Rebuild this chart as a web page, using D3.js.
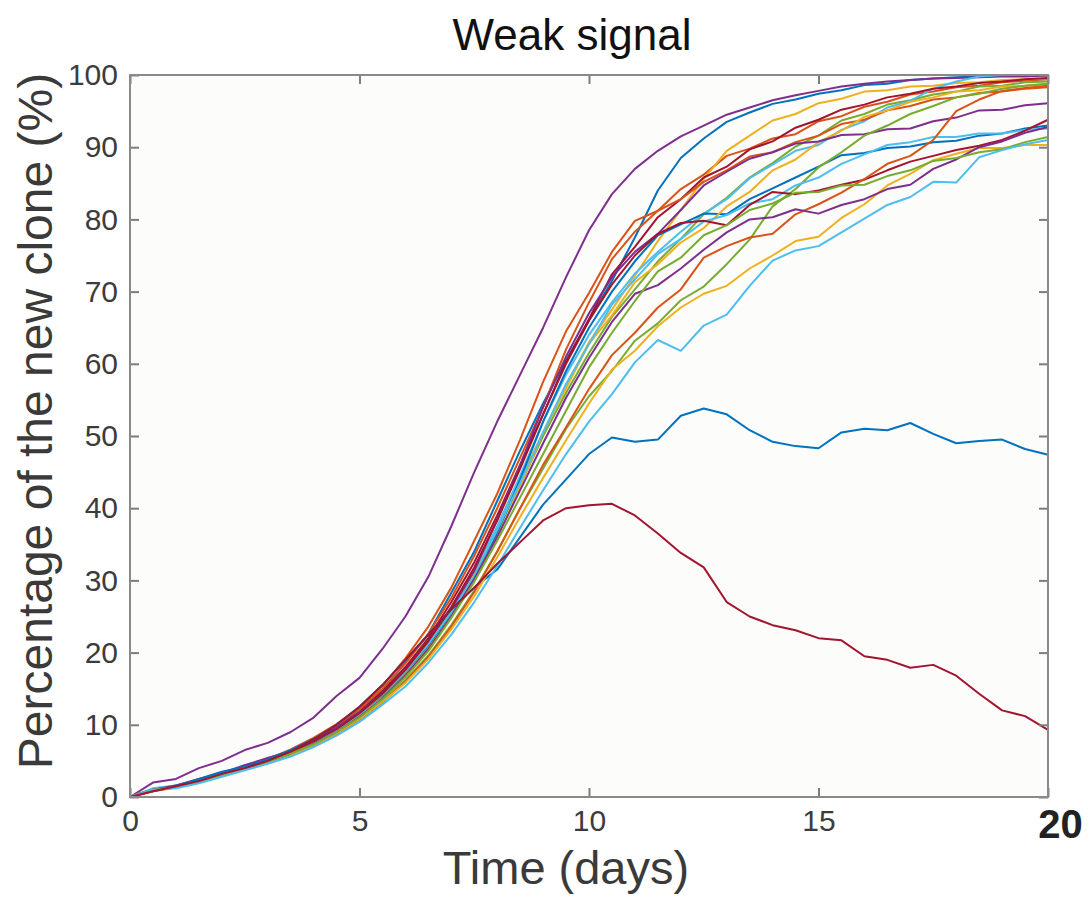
<!DOCTYPE html>
<html lang="en">
<head>
  <meta charset="UTF-8">
  <title>Weak signal</title>
  <script src="https://d3js.org/d3.v7.min.js"></script>
  <style>
    body { margin: 0; background: #fff; font-family: "Liberation Sans", Arial, sans-serif; }
    .run { fill: none; stroke-width: 2px; stroke-linejoin: round; }
    .axis path { display: none; }
    .axis line { stroke: #7d7d7d; stroke-width: 2px; }
    .axis text { font-family: "Liberation Sans", Arial, sans-serif; font-size: 30px; fill: #3c3c3c; }
    .title { font-size: 44px; fill: #111; }
    .axis-label { fill: #3a3a3a; }
  </style>
</head>
<body>
  <svg id="chart" width="1089" height="907"></svg>

  <script>
    // time grid (days)
    const days = [0, 0.5, 1, 1.5, 2, 2.5, 3, 3.5, 4, 4.5, 5, 5.5, 6, 6.5, 7, 7.5, 8, 8.5, 9, 9.5,
                  10, 10.5, 11, 11.5, 12, 12.5, 13, 13.5, 14, 14.5, 15, 15.5, 16, 16.5, 17, 17.5,
                  18, 18.5, 19, 19.5, 20];
    const xTicks = [0, 5, 10, 15, 20];
    const yTicks = [0, 10, 20, 30, 40, 50, 60, 70, 80, 90, 100];

    // percentage of the new clone, one array per simulation run
    const run01 = [0, 1, 1.6, 2.2, 3.4, 4.1, 5.3, 6.4, 8.1, 9.6, 12.2, 14.8, 18.6, 22.6, 28.3, 34, 41, 48,
                   54.5, 60.5, 66, 71.5, 77.5, 84, 88.5, 91.2, 93.5, 94.8, 96, 96.6, 97.4, 97.9, 98.6, 98.8, 99.3, 99.5, 99.7, 99.8, 99.9, 100, 100];
    const run02 = [0, 0.8, 1.4, 2.1, 3.1, 4.2, 5.2, 6.6, 8.2, 10.1, 12.4, 15.4, 19.2, 23.6, 29, 35.5, 42, 49.5,
                   57.5, 64.5, 69.8, 75.5, 79.8, 81.2, 84.2, 86.2, 88.8, 89.8, 91.2, 91.8, 93.6, 94.3, 95.6, 96.3, 97.3, 97.7, 98.3, 98.5, 99, 99.2, 99.4];
    const run03 = [0, 1, 1.5, 2.3, 3.1, 4.3, 5.1, 6.1, 7.7, 9.2, 11.6, 14.2, 17.1, 21.2, 25.8, 31, 37, 44,
                   50.5, 57, 63, 67.5, 72.2, 77, 81.3, 85.6, 89.5, 91.6, 93.7, 94.6, 96.1, 96.7, 97.7, 97.9, 98.4, 98.5, 98.9, 99, 99.3, 99.4, 99.5];
    const run04 = [0, 2, 2.5, 4, 5, 6.5, 7.5, 9, 11, 14, 16.5, 20.5, 25, 30.5, 37.5, 45, 52, 58.5,
                   65, 72, 78.5, 83.5, 87, 89.5, 91.5, 93, 94.5, 95.5, 96.5, 97.2, 97.8, 98.4, 98.8, 99.1, 99.3, 99.5, 99.6, 99.7, 99.8, 99.8, 99.9];
    const run05 = [0, 1, 1.4, 2.2, 3.3, 4.1, 5, 6.3, 7.5, 9.4, 11.4, 14.1, 17.2, 20.8, 25.6, 30.2, 36.8, 43.2,
                   50, 56, 61.5, 66.5, 70.3, 74.2, 77.3, 80.7, 83, 85.8, 87.8, 90.1, 91.6, 93.7, 94.6, 95.9, 96.5, 97.3, 97.7, 98.4, 98.5, 99, 99.1];
    const run06 = [0, 1.2, 1.6, 2.4, 3.3, 4.4, 5.3, 6.5, 7.9, 9.5, 11.8, 14.4, 17.8, 21.6, 26.2, 31.4, 37.5, 44.5,
                   52, 58.5, 64, 68.5, 72.5, 75.5, 78.3, 80.8, 82.8, 85.7, 87.6, 89.5, 90.3, 92.4, 93.6, 95.5, 96.4, 98.1, 99.1, 99.8, 100, 100, 100];
    const run07 = [0, 0.9, 1.5, 2.2, 3.2, 4.2, 5.1, 6.3, 7.8, 9.6, 11.8, 14.6, 18, 22, 27, 32.5, 39, 46,
                   53, 60.3, 66.2, 72.4, 76.2, 80.3, 82.8, 85.8, 87.3, 89.7, 90.8, 92.7, 93.8, 95.2, 95.9, 96.9, 97.4, 98.1, 98.4, 98.9, 99.1, 99.4, 99.6];
    const run08 = [0, 1, 1.5, 2.1, 3, 4, 5, 6.1, 7.5, 9.2, 11.3, 13.8, 17, 20.8, 25.2, 30.3, 36.5, 44,
                   52, 59, 65, 70, 74.2, 77.8, 79.3, 80.8, 80.7, 82.8, 84.3, 85.8, 87.3, 88.9, 89.2, 89.9, 90.1, 90.7, 90.9, 91.6, 91.9, 92.6, 93];
    const run09 = [0, 1, 1.5, 2.3, 3.2, 4.3, 5.3, 6.5, 8.1, 9.9, 12.2, 15, 18.5, 22.6, 27.6, 33.4, 40, 47,
                   54, 62, 68.5, 74.5, 78.3, 81.2, 82.8, 85.2, 86.8, 88.7, 89.3, 90.7, 91.6, 93.2, 93.8, 95.1, 95.7, 96.6, 96.9, 97.5, 97.7, 98.1, 98.3];
    const run10 = [0, 1, 1.3, 2.1, 3.2, 4, 4.9, 6, 7.4, 9.1, 11.2, 13.7, 16.9, 20.6, 25, 30, 36, 43,
                   50.5, 56.6, 62.8, 66.7, 71.3, 73.8, 76.8, 78.8, 81.8, 83.8, 86.8, 88.3, 90.7, 92.3, 94.2, 95.1, 96.3, 96.9, 97.7, 97.9, 98.4, 98.5, 98.8];
    const run11 = [0, 1, 1.6, 2.5, 3.3, 4.4, 5.4, 6.3, 7.9, 9.6, 11.7, 14.3, 17.6, 21.5, 26, 31.3, 38.5, 46,
                   54, 61, 67, 72, 75.5, 78, 81.3, 84.7, 86.6, 88.4, 89.3, 90.5, 90.8, 91.7, 91.8, 92.5, 92.6, 93.6, 94.1, 95.1, 95.2, 95.8, 96.1];
    const run12 = [0, 1, 1.3, 2, 3, 3.9, 4.8, 5.9, 7.2, 8.9, 10.9, 13.2, 16.2, 19.6, 23.8, 28.6, 34, 40,
                   45.5, 51, 55.5, 59, 63.2, 65.6, 68.8, 70.7, 73.8, 77.2, 81.8, 84.2, 87.2, 89.3, 91.6, 93, 94.6, 95.7, 96.9, 97.4, 98.1, 98.5, 98.8];
    const run13 = [0, 1.1, 1.5, 2.3, 3.2, 4.1, 5.1, 6.2, 7.6, 9.3, 11.5, 14.2, 17.4, 21.2, 25.6, 30.6, 37, 43.5,
                   50.5, 57.2, 62.7, 68.2, 71.7, 75.2, 77.3, 79.7, 80.6, 82.2, 82.8, 84.7, 85.8, 87.7, 89, 90.3, 90.7, 91.4, 91.4, 91.9, 91.9, 92.4, 92.6];
    const run14 = [0, 1, 1.5, 2.1, 3.1, 4.1, 5, 6.2, 7.7, 9.4, 11.6, 14.3, 17.6, 21.6, 26.3, 31.8, 38.3, 45.5,
                   53, 60, 66, 71, 75, 78, 79.5, 79.8, 79.2, 82, 83.8, 83.5, 84, 84.8, 85.5, 86.8, 88, 88.8, 89.6, 90.2, 91, 92.3, 93.8];
    const run15 = [0, 1, 1.5, 2.5, 3.5, 4.2, 5.2, 6.5, 8, 10, 12.5, 15.5, 19, 22.5, 26, 29, 31.5, 36,
                   40.5, 44, 47.5, 49.8, 49.2, 49.5, 52.8, 53.8, 53, 50.8, 49.2, 48.6, 48.3, 50.5, 51, 50.8, 51.8, 50.3, 49, 49.3, 49.5, 48.2, 47.4];
    const run16 = [0, 0.8, 1.3, 2, 2.9, 3.8, 4.7, 5.8, 7.1, 8.7, 10.7, 13.1, 16, 19.4, 23.6, 28.4, 34, 40,
                   46, 51.2, 56.5, 61.2, 64.3, 67.8, 70.3, 74.7, 76.3, 77.5, 78, 80.7, 82.1, 83.7, 85.6, 87.7, 88.8, 91, 95, 96.6, 97.8, 98.2, 98.5];
    const run17 = [0, 1, 1.4, 2, 2.9, 3.9, 4.8, 5.8, 7.2, 8.8, 10.8, 13.2, 15.8, 19.1, 23.2, 27.8, 33.2, 38.8,
                   44.2, 49.4, 54.5, 59.2, 61.8, 65.2, 67.8, 69.7, 70.8, 73.2, 75, 77, 77.6, 80.2, 82.1, 84.7, 86.3, 88.2, 89.1, 89.9, 89.9, 90.3, 90.3];
    const run18 = [0, 1, 1.5, 2.2, 3.1, 4, 4.9, 6, 7.4, 9, 11.1, 13.6, 16.8, 20.5, 25, 30.2, 36, 42.5,
                   49, 55.3, 60.8, 65.8, 69.7, 70.9, 73.2, 75.8, 78.2, 80, 80.3, 81.4, 80.8, 82, 82.8, 84.2, 84.8, 87, 88.3, 90, 90.8, 92, 92.8];
    const run19 = [0, 1, 1.4, 2.1, 3, 4, 4.9, 6, 7.3, 9, 11, 13.5, 16.6, 20.2, 24.8, 29.8, 35.5, 41.5,
                   47.5, 53.5, 59.5, 64.3, 68.7, 72.8, 74.7, 77.8, 79.2, 81.3, 82.2, 83.7, 83.8, 84.7, 84.8, 86, 86.8, 88.1, 88.5, 89.3, 89.7, 90.7, 91.4];
    const run20 = [0, 1, 1.2, 1.9, 2.8, 3.7, 4.6, 5.6, 6.9, 8.5, 10.4, 12.8, 15.3, 18.6, 22.5, 27, 32, 37.3,
                   42.5, 47.5, 52, 55.8, 60.2, 63.3, 61.8, 65.3, 66.8, 70.8, 74.3, 75.7, 76.3, 78.2, 80.1, 82, 83.1, 85.2, 85.1, 88.6, 89.6, 90.4, 91];
    const run21 = [0, 0.8, 1.5, 2.2, 3.2, 4, 5, 6.3, 8, 10, 12.5, 15.5, 19, 22.5, 26, 29, 32.3, 35.3,
                   38.3, 40, 40.4, 40.6, 39, 36.5, 33.8, 31.8, 27, 25, 23.8, 23.1, 22, 21.7, 19.5, 19, 17.9, 18.3, 16.8, 14.3, 12, 11.2, 9.3];

    const runs = [run01, run02, run03, run04, run05, run06, run07, run08, run09, run10, run11,
                  run12, run13, run14, run15, run16, run17, run18, run19, run20, run21];

    // MATLAB default line colour order, cycled over the runs
    const colorOrder = ["#0072BD", "#D95319", "#EDB120", "#7E2F8E", "#77AC30", "#4DBEEE", "#A2142F"];

    const margin = { top: 75, right: 41, bottom: 110, left: 130 };
    const width = 1089 - margin.left - margin.right;
    const height = 907 - margin.top - margin.bottom;

    const svg = d3.select("#chart");
    const g = svg.append("g").attr("transform", `translate(${margin.left},${margin.top})`);

    const x = d3.scaleLinear().domain([0, 20]).range([0, width]);
    const y = d3.scaleLinear().domain([0, 100]).range([height, 0]);

    g.append("rect")
      .attr("width", width)
      .attr("height", height)
      .attr("fill", "#fcfcfa");

    const line = d3.line()
      .x((d, i) => x(days[i]))
      .y(d => y(d));

    g.selectAll(".run")
      .data(runs)
      .enter()
      .append("path")
      .attr("class", "run")
      .attr("stroke", (d, i) => colorOrder[i % colorOrder.length])
      .attr("d", line);

    // box with inward ticks on all four sides
    const tick = 9;
    g.append("g").attr("class", "axis")
      .attr("transform", `translate(0,${height})`)
      .call(d3.axisBottom(x).tickValues(xTicks).tickSizeInner(-tick).tickSizeOuter(0).tickPadding(13).tickFormat(d3.format("d")))
      .call(a => a.selectAll(".tick text").filter(d => d === 20)
        .style("font-weight", "bold").style("font-size", "40px").style("fill", "#222")
        .attr("dx", 12));

    g.append("g").attr("class", "axis")
      .call(d3.axisLeft(y).tickValues(yTicks).tickSizeInner(-tick).tickSizeOuter(0).tickPadding(12));

    g.append("g").attr("class", "axis")
      .call(d3.axisTop(x).tickValues(xTicks).tickSizeInner(-tick).tickSizeOuter(0).tickFormat(""));

    g.append("g").attr("class", "axis")
      .attr("transform", `translate(${width},0)`)
      .call(d3.axisRight(y).tickValues(yTicks).tickSizeInner(-tick).tickSizeOuter(0).tickFormat(""));

    g.append("rect")
      .attr("width", width)
      .attr("height", height)
      .attr("fill", "none")
      .attr("stroke", "#8a8a8a")
      .attr("stroke-width", 2);

    svg.append("text")
      .attr("class", "title")
      .attr("x", 572)
      .attr("y", 50)
      .attr("text-anchor", "middle")
      .text("Weak signal");

    svg.append("text")
      .attr("class", "axis-label")
      .attr("x", 566)
      .attr("y", 884)
      .attr("text-anchor", "middle")
      .style("font-size", "47px")
      .text("Time (days)");

    svg.append("text")
      .attr("class", "axis-label")
      .attr("transform", "translate(52,421) rotate(-90)")
      .attr("text-anchor", "middle")
      .style("font-size", "48px")
      .text("Percentage of the new clone (%)");
  </script>
</body>
</html>
